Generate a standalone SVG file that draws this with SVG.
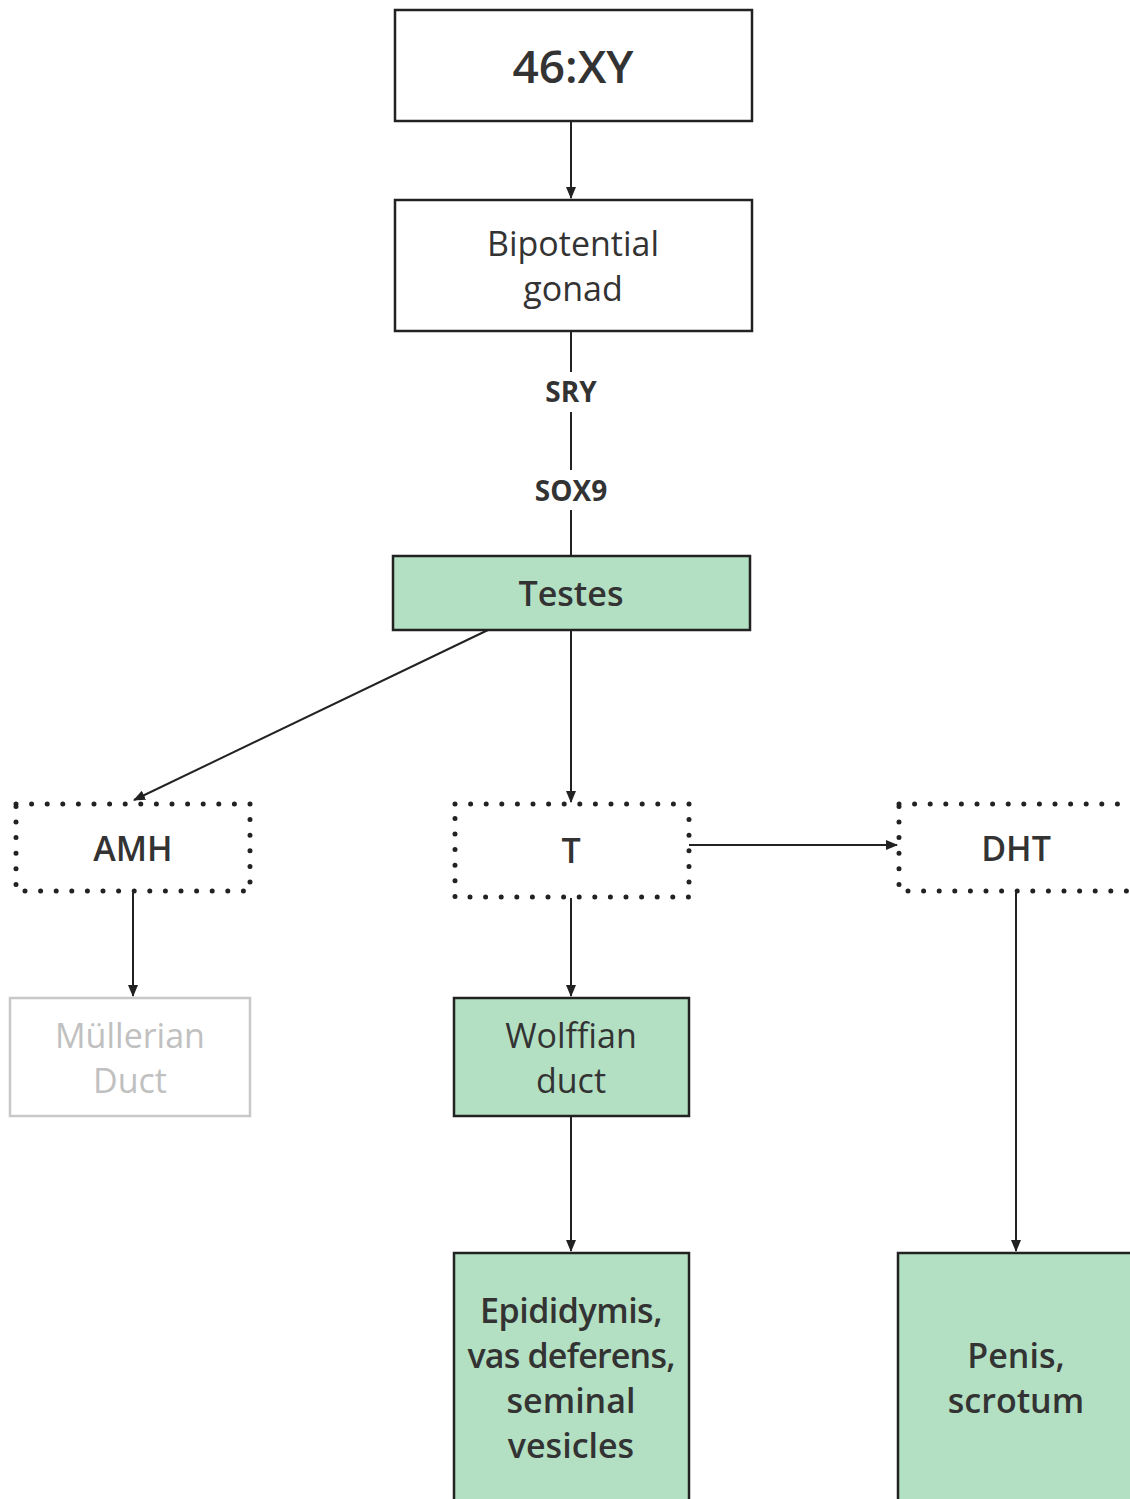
<svg xmlns="http://www.w3.org/2000/svg" width="1130" height="1499" viewBox="0 0 1130 1499">
<defs>
<marker id="ah" markerWidth="12" markerHeight="10" refX="11" refY="5" orient="auto" markerUnits="userSpaceOnUse"><path d="M0,0 L12,5 L0,10 z" fill="#222"/></marker>
<style>
.box{fill:#fff;stroke:#222;stroke-width:2.5}
.green{fill:#b3e0c3;stroke:#222;stroke-width:2.5}
.dot{fill:none;stroke:#222;stroke-width:5;stroke-linecap:round;stroke-dasharray:0 15.6}
.grey{fill:#fff;stroke:#c8c8c8;stroke-width:2.5}
text{font-family:"Open Sans","Noto Sans","Liberation Sans",sans-serif;fill:#333;text-anchor:middle}
.t34{font-size:34px}
.b{font-weight:600}
.lbl{font-size:28px;font-weight:700}
.conn line{stroke:#222;stroke-width:2}
</style>
</defs>
<rect width="1130" height="1499" fill="#fff"/>
<g class="conn">
<line x1="571" y1="121" x2="571" y2="198" marker-end="url(#ah)"/>
<line x1="571" y1="331" x2="571" y2="372"/>
<line x1="571" y1="412" x2="571" y2="470"/>
<line x1="571" y1="510" x2="571" y2="556"/>
<line x1="571" y1="630" x2="571" y2="802" marker-end="url(#ah)"/>
<line x1="488" y1="630" x2="134" y2="800" marker-end="url(#ah)"/>
<line x1="689" y1="845" x2="897" y2="845" marker-end="url(#ah)"/>
<line x1="133" y1="893" x2="133" y2="996" marker-end="url(#ah)"/>
<line x1="571" y1="898" x2="571" y2="996" marker-end="url(#ah)"/>
<line x1="571" y1="1116" x2="571" y2="1251" marker-end="url(#ah)"/>
<line x1="1016" y1="893" x2="1016" y2="1251" marker-end="url(#ah)"/>
<text class="lbl" x="571" y="402">SRY</text>
<text class="lbl" x="571" y="501">SOX9</text>
</g>
<g id="n46xy"><rect class="box" x="395" y="10" width="357" height="111"/><text x="573" y="83" font-size="46" font-weight="600">46:XY</text></g>
<g id="gonad"><rect class="box" x="395" y="200" width="357" height="131"/><text class="t34" x="573" y="256">Bipotential</text><text class="t34" x="573" y="301">gonad</text></g>
<g id="testes"><rect class="green" x="393" y="556" width="357" height="74"/><text class="t34 b" x="571" y="606">Testes</text></g>
<g id="amh"><rect class="dot" x="16" y="804" width="234" height="87"/><text class="t34 b" x="133" y="861">AMH</text></g>
<g id="t"><rect class="dot" x="455" y="804" width="234" height="93"/><text class="t34 b" x="571" y="863">T</text></g>
<g id="dht"><rect class="dot" x="899" y="804" width="234" height="87"/><text class="t34 b" x="1016" y="861">DHT</text></g>
<g id="mullerian"><rect class="grey" x="10" y="998" width="240" height="118"/><text class="t34" x="130" y="1048" style="fill:#c0c0c0">Müllerian</text><text class="t34" x="130" y="1093" style="fill:#c0c0c0">Duct</text></g>
<g id="wolffian"><rect class="green" x="454" y="998" width="235" height="118"/><text class="t34" x="571" y="1048">Wolffian</text><text class="t34" x="571" y="1093">duct</text></g>
<g id="epid"><rect class="green" x="454" y="1253" width="235" height="260"/><text class="t34 b" x="571" y="1323" style="letter-spacing:-0.5px">Epididymis,</text><text class="t34 b" x="571" y="1368" style="letter-spacing:-0.8px">vas deferens,</text><text class="t34 b" x="571" y="1413">seminal</text><text class="t34 b" x="571" y="1458">vesicles</text></g>
<g id="penis"><rect class="green" x="898" y="1253" width="245" height="260"/><text class="t34 b" x="1016" y="1368">Penis,</text><text class="t34 b" x="1016" y="1413">scrotum</text></g>
</svg>
